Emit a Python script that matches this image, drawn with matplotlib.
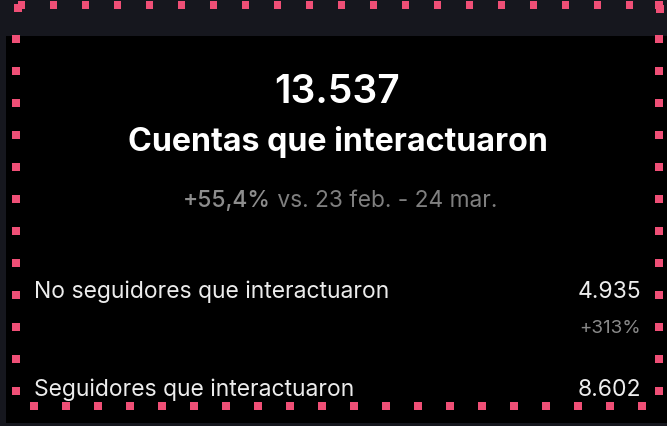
import numpy as np
import matplotlib
matplotlib.use("Agg")
import matplotlib.pyplot as plt
from matplotlib.patches import Rectangle

# panel content
total_value = "13.537"
total_label = "Cuentas que interactuaron"
change_pct = "+55,4%"
change_period = " vs. 23 feb. - 24 mar."
row_labels = ["No seguidores que interactuaron", "Seguidores que interactuaron"]
row_values = ["4.935", "8.602"]
row_changes = ["+313%", ""]

W, H = 667, 426
BG = "#16171e"
PINK = "#ef4f76"
FONT = ["Inter", "DejaVu Sans"]

fig = plt.figure(figsize=(W / 100, H / 100), dpi=100)
fig.patch.set_facecolor(BG)
ax = fig.add_axes([0, 0, 1, 1])
ax.set_xlim(0, W)
ax.set_ylim(H, 0)
ax.axis("off")

# black card
ax.add_patch(Rectangle((6, 36), W - 6, 387, facecolor="black", edgecolor="none"))

# dotted pink frame
def sq(cx, cy, s=7.5):
    ax.add_patch(Rectangle((cx - s / 2, cy - s / 2), s, s, facecolor=PINK, edgecolor="none", zorder=5))

for k in range(20):
    sq(21.5 + 32 * k, 5)
    sq(34 + 32 * k, 406)
for k in range(12):
    sq(16, 39 + 32 * k)
    sq(659, 39 + 32 * k)
sq(18, 8)
sq(659, 5)
sq(660, 9)

# header
ax.text(337, 103, total_value, color="white", fontsize=28, fontweight="semibold",
        family=FONT, ha="center", va="baseline")
ax.text(338, 151, total_label, color="white", fontsize=23.2, fontweight="bold",
        family=FONT, ha="center", va="baseline")
t1 = ax.text(183, 207, change_pct, color="#8d8d8d", fontsize=16.4, fontweight="medium",
             family=FONT, ha="left", va="baseline")
fig.canvas.draw()
x_end = t1.get_window_extent().x1
ax.annotate(change_period, xy=(x_end, H - 207), xycoords="figure pixels",
            color="#7f7f7f", fontsize=16.4, family=FONT, ha="left", va="baseline")

# rows
row_y = [298, 396]
for lab, val, chg, y in zip(row_labels, row_values, row_changes, row_y):
    ax.text(34, y, lab, color="#ececec", fontsize=16.5, family=FONT, ha="left", va="baseline")
    ax.text(641, y, val, color="#ececec", fontsize=16.5, family=FONT, ha="right", va="baseline")
    if chg:
        ax.text(641, y + 35, chg, color="#8a8a8a", fontsize=13.5, family=FONT, ha="right", va="baseline")

fig.savefig("out.png", dpi=100, facecolor=BG)
